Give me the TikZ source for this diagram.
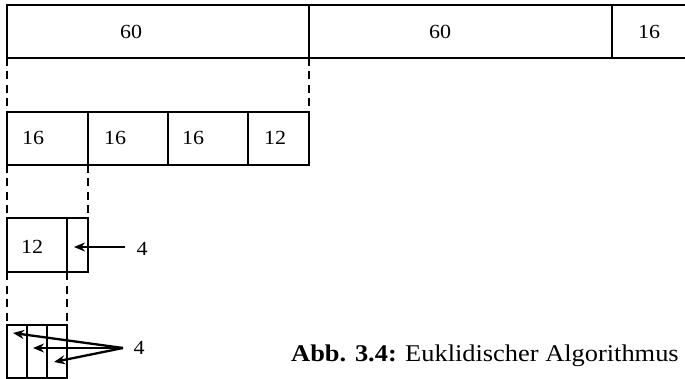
\documentclass[tikz,border=0pt]{standalone}
\usepackage{fontspec}
\setmainfont{Liberation Serif}[FakeStretch=1.1]
\usetikzlibrary{arrows.meta}
\begin{document}
\begin{tikzpicture}[x=1pt,y=-1pt,
  cell/.style={draw, line width=2.8pt, inner sep=0pt, outer sep=0pt, anchor=north west},
  lbl/.style={inner sep=0pt, font=\fontsize{20}{24}\selectfont},
  guide/.style={line width=2.6pt, dash pattern=on 8pt off 5.5pt},
  pointer/.style={line width=2.3pt, -{Stealth[length=11pt,width=9pt]}}]
\useasboundingbox (0,0) rectangle (685,379);

% first row: 60 | 60 | 16 (open to the right)
\node[cell, minimum width=302pt, minimum height=53pt] (a1) at (7,5) {};
\node[cell, minimum width=303pt, minimum height=53pt] (a2) at (a1.north east) {};
\draw[line width=2.8pt] (a2.north east) -- (686,5) (a2.south east) -- (686,58);
\node[lbl] (t1) at (131,32) {60};
\node[lbl] (t2) at (440,32) {60};
\node[lbl] (t3) at (649,32) {16};

% second row: 16 | 16 | 16 | 12
\node[cell, minimum width=81pt, minimum height=53pt] (b1) at (7,112) {};
\node[cell, minimum width=80pt, minimum height=53pt] (b2) at (b1.north east) {};
\node[cell, minimum width=80pt, minimum height=53pt] (b3) at (b2.north east) {};
\node[cell, minimum width=61pt, minimum height=53pt] (b4) at (b3.north east) {};
\node[lbl] (u1) at (33,138) {16};
\node[lbl] (u2) at (115,138) {16};
\node[lbl] (u3) at (193,138) {16};
\node[lbl] (u4) at (275,138) {12};
\draw[guide] (a1.south west) -- (b1.north west);
\draw[guide] (a1.south east) -- (b4.north east);

% third row: 12 | 4
\node[cell, minimum width=60pt, minimum height=54pt] (c1) at (7,218) {};
\node[cell, minimum width=21pt, minimum height=54pt] (c2) at (c1.north east) {};
\node[lbl] (v1) at (32,247) {12};
\node[lbl] (v2) at (142,249) {4};
\draw[guide] (b1.south west) -- (c1.north west);
\draw[guide] (b1.south east) -- (c2.north east);
\coordinate (p0) at (125,247);
\coordinate (p1) at (74,247);
\draw[pointer] (p0) -- (p1);

% fourth row: 4 | 4 | 4
\node[cell, minimum width=20pt, minimum height=53pt] (d1) at (7,325) {};
\node[cell, minimum width=20pt, minimum height=53pt] (d2) at (d1.north east) {};
\node[cell, minimum width=20pt, minimum height=53pt] (d3) at (d2.north east) {};
\node[lbl] (w1) at (139,348) {4};
\draw[guide] (c1.south west) -- (d1.north west);
\draw[guide] (c1.south east) -- (d3.north east);
\coordinate (q0) at (123,348);
\coordinate (q1) at (13,333);
\coordinate (q2) at (33,348);
\coordinate (q3) at (54,362);
\draw[pointer] (q0) -- (q1);
\draw[pointer] (q0) -- (q2);
\draw[pointer] (q0) -- (q3);

% caption
\node[inner sep=0pt, anchor=base west, font=\fontsize{24}{28}\selectfont] (cap) at (291,361)
  {\textbf{Abb. 3.4:}\hspace{0.35em}Euklidischer Algorithmus};
\end{tikzpicture}
\end{document}
